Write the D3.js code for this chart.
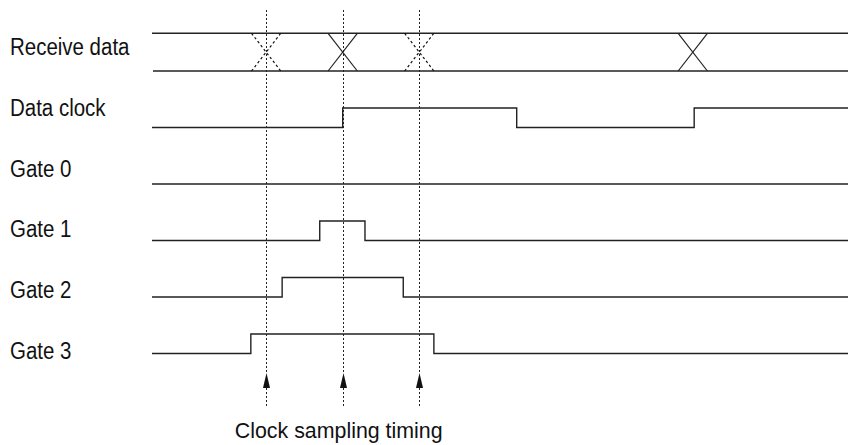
<!DOCTYPE html>
<html>
<head>
<meta charset="utf-8">
<script src="https://cdn.jsdelivr.net/npm/d3@7/dist/d3.min.js"></script>
<style>
  html, body { margin: 0; padding: 0; background: #fff; }
  svg { display: block; }
  text { font-family: "Liberation Sans", Arial, sans-serif; fill: #111; }
</style>
</head>
<body>
<svg id="chart" width="849" height="445"></svg>
<script>
// ---- Data (time in arbitrary units, 0..100 across the trace area) ----
const rows = ["Receive data", "Data clock", "Gate 0", "Gate 1", "Gate 2", "Gate 3"];
const samplingTimes = [16.4, 27.4, 38.4];
const samplingLabel = "Clock sampling timing";

// Receive data bus crossings
const busCrossTimes = [16.4, 27.4, 38.4, 77.7];
const busCrossDashed = [true, false, true, false];
const busCrossHalfWidth = 2.1;

// Digital signals: initial level and transition times
const clockInit = 0, clockEdges = [27.4, 52.4, 77.9];
const gate0Init = 0, gate0Edges = [];
const gate1Init = 0, gate1Edges = [24.1, 30.6];
const gate2Init = 0, gate2Edges = [18.7, 36.1];
const gate3Init = 0, gate3Edges = [14.2, 40.5];

const signals = [
  { row: "Data clock", init: clockInit, edges: clockEdges },
  { row: "Gate 0", init: gate0Init, edges: gate0Edges },
  { row: "Gate 1", init: gate1Init, edges: gate1Edges },
  { row: "Gate 2", init: gate2Init, edges: gate2Edges },
  { row: "Gate 3", init: gate3Init, edges: gate3Edges }
];

// ---- Layout ----
const svg = d3.select("#chart");
const x = d3.scaleLinear().domain([0, 100]).range([152, 848]);
const rowY = d3.scalePoint().domain(rows).range([71, 353.5]);   // low level of each row
const labelY = d3.scalePoint().domain(rows).range([55, 359]);   // label baselines
const level = d3.scaleLinear().domain([0, 1]).range([0, -19.5]);
const busHeight = 37.7;

const ink = "#222";
const sw = 1.4;
const fontSize = 23;
const narrow = 0.89;

// Labels
svg.append("g").selectAll("g").data(rows).join("g")
  .attr("transform", d => `translate(10,${labelY(d)}) scale(${narrow},1)`)
  .append("text")
  .attr("font-size", fontSize)
  .text(d => d);

// Receive data bus
const busLow = rowY("Receive data"), busHigh = busLow - busHeight;
const bus = svg.append("g").attr("stroke", ink).attr("fill", "none");
bus.append("line").attr("x1", x(0)).attr("x2", x(100)).attr("y1", busHigh).attr("y2", busHigh).attr("stroke-width", sw);
bus.append("line").attr("x1", x(0) + 1).attr("x2", x(100)).attr("y1", busLow).attr("y2", busLow).attr("stroke-width", sw);
busCrossTimes.forEach((t, i) => {
  const g = bus.append("g")
    .attr("stroke", busCrossDashed[i] ? "#111" : ink)
    .attr("stroke-width", 1.2)
    .attr("stroke-dasharray", busCrossDashed[i] ? "2.5,2.5" : null);
  g.append("line").attr("x1", x(t - busCrossHalfWidth)).attr("y1", busHigh).attr("x2", x(t + busCrossHalfWidth)).attr("y2", busLow);
  g.append("line").attr("x1", x(t - busCrossHalfWidth)).attr("y1", busLow).attr("x2", x(t + busCrossHalfWidth)).attr("y2", busHigh);
});

// Digital waveforms
signals.forEach(s => {
  const pts = [];
  let lv = s.init;
  pts.push([0, lv]);
  s.edges.forEach(t => { pts.push([t, lv]); lv = 1 - lv; pts.push([t, lv]); });
  pts.push([100, lv]);
  const line = d3.line().x(d => x(d[0])).y(d => rowY(s.row) + level(d[1]));
  svg.append("path").attr("d", line(pts))
    .attr("fill", "none").attr("stroke", ink).attr("stroke-width", sw);
});

// Sampling markers
const markTop = 10, arrowTip = 373, arrowBase = 388, markBottom = 408;
const marks = svg.append("g");
samplingTimes.forEach(t => {
  const cx = Math.round(x(t)) + 0.5;
  marks.append("line").attr("x1", cx).attr("x2", cx).attr("y1", markTop).attr("y2", arrowTip)
    .attr("stroke", "#222").attr("stroke-width", 1).attr("stroke-dasharray", "2,2");
  marks.append("line").attr("x1", cx).attr("x2", cx).attr("y1", arrowBase).attr("y2", markBottom)
    .attr("stroke", "#222").attr("stroke-width", 1).attr("stroke-dasharray", "2,2");
  marks.append("path")
    .attr("d", `M${cx},${arrowTip} L${cx - 3.5},${arrowBase} L${cx + 3.5},${arrowBase} Z`)
    .attr("fill", "#111");
});

svg.append("g")
  .attr("transform", `translate(${x(samplingTimes[1]) - 4},438) scale(0.93,1)`)
  .append("text")
  .attr("text-anchor", "middle").attr("font-size", fontSize)
  .text(samplingLabel);
</script>
</body>
</html>
